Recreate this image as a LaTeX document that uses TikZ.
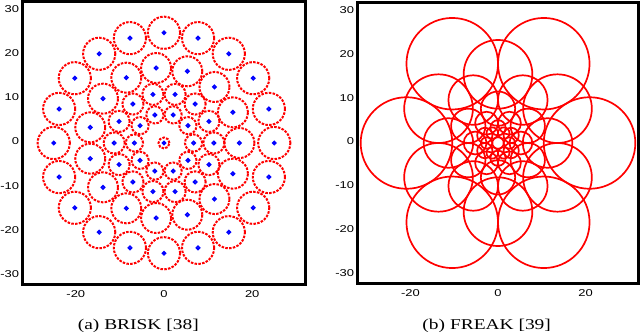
\documentclass[tikz,border=0pt]{standalone}
\usepackage{fontspec}
\setmainfont{Liberation Serif}
\setsansfont{Liberation Sans}
\usetikzlibrary{positioning,calc}
\definecolor{PatRed}{RGB}{255,0,0}
\definecolor{PatBlue}{RGB}{0,0,255}
\tikzset{
	panelframe/.style={draw=black,line width=2.8bp},
	dashring/.style={draw=PatRed,line width=2bp,dash pattern=on 2.5bp off 1.3bp},
	solidring/.style={draw=PatRed,line width=1.7bp},
	bluedot/.style={draw=PatBlue,fill=white,line width=1.6bp},
	ticklabel/.style={font=\sffamily\fontsize{10}{10}\selectfont,xscale=1.3,inner sep=0pt},
	capt/.style={font=\fontsize{15}{15}\selectfont,xscale=1.3,inner sep=0pt,anchor=base},
}

\begin{document}
\begin{tikzpicture}[x=1bp,y=1bp]
	\useasboundingbox (0,0) rectangle (640,331);
	% (a) BRISK sampling pattern
	\begin{scope}[shift={(164,188)},x=4.41bp,y=4.41bp]
		\draw[panelframe] (-32,-32) rectangle (32,32);
		\draw[dashring] (0,0) circle[radius=1.25];
		\foreach \rad/\num/\sig in {6.7/10/1.95,11.3/14/2.4,17.1/15/3.4,25/20/3.65}
		\foreach \k in {1,...,\num}
		\draw[dashring] ({\k*360/\num}:\rad) circle[radius=\sig];
		\draw[bluedot] (0,0) circle[radius=1.6bp];
		\foreach \rad/\num in {6.7/10,11.3/14,17.1/15,25/20}
		\foreach \k in {1,...,\num}
		\draw[bluedot] ({\k*360/\num}:\rad) circle[radius=1.6bp];
		\foreach \v [count=\i] in {-30,-20,...,30}
		\node[ticklabel,anchor=east] (ay\i) at ([xshift=-3.5bp,yshift=1.5bp]-32,\v) {\v};
		\foreach \v [count=\i] in {-20,0,20}
		\node[ticklabel,anchor=north] (ax\i) at ([yshift=-6bp]\v,-32) {\v};
	\end{scope}
	% (b) FREAK sampling pattern
	\begin{scope}[shift={(498,188)},x=4.38bp,y=4.38bp]
		\draw[panelframe] (-32,-32) rectangle (32,32);
		\foreach \rad/\sig/\off in {20.9/10.45/0,15.68/7.84/30,11.32/5.66/0,7.84/3.92/30,5.23/2.61/0,3.48/1.74/30,2.61/1.31/0}
		\foreach \k in {0,...,5}
		\draw[solidring] ({\k*60+\off}:\rad) circle[radius=\sig];
		\draw[solidring] (0,0) circle[radius=1.31];
		\foreach \v [count=\i] in {-30,-20,...,30}
		\node[ticklabel,anchor=east] (by\i) at ([xshift=-3.5bp,yshift=1.5bp]-32,\v) {\v};
		\foreach \v [count=\i] in {-20,0,20}
		\node[ticklabel,anchor=north] (bx\i) at ([yshift=-6bp]\v,-32) {\v};
	\end{scope}
	\node[capt] (capa) at (138.3,2) {(a) BRISK [38]};
	\node[capt] (capb) at (486.7,2) {(b) FREAK [39]};
\end{tikzpicture}
\end{document}
